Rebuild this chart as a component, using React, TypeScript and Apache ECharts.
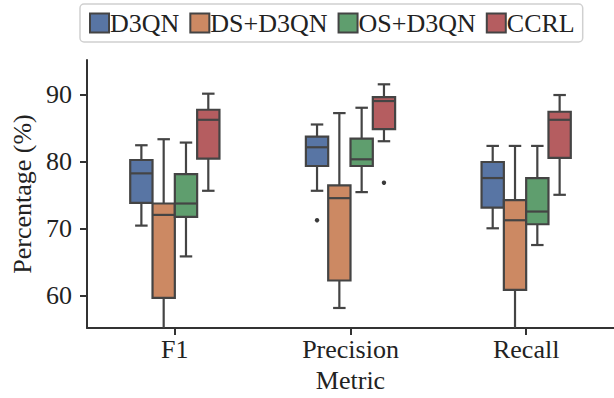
import React, { useEffect, useRef } from 'react';
import * as echarts from 'echarts';

const categories = ['F1', 'Precision', 'Recall'];
const seriesNames = ['D3QN', 'DS+D3QN', 'OS+D3QN', 'CCRL'];
// each row: [min, Q1, median, Q3, max] per category
const d3qnBoxes = [
  [70.4, 73.8, 78.2, 80.2, 82.4],
  [75.6, 79.3, 82.1, 83.7, 85.5],
  [70.0, 73.1, 77.5, 79.9, 82.3],
];
const dsD3qnBoxes = [
  [52.0, 59.6, 72.0, 73.7, 83.3],
  [58.1, 62.2, 74.5, 76.4, 87.2],
  [52.0, 60.8, 71.2, 74.2, 82.3],
];
const osD3qnBoxes = [
  [65.8, 71.7, 73.7, 78.1, 82.8],
  [75.4, 79.3, 80.3, 83.4, 88.0],
  [67.5, 70.6, 72.5, 77.5, 82.3],
];
const ccrlBoxes = [
  [75.6, 80.4, 86.2, 87.7, 90.1],
  [83.0, 84.8, 89.0, 89.6, 91.5],
  [75.0, 80.5, 86.2, 87.4, 89.9],
];
// outliers: [categoryIndex, hueIndex, value]
const outlierPoints = [
  [1, 0, 71.2],
  [1, 3, 76.8],
];
const yTicks = [60, 70, 80, 90];
const yMin = 55.11;
const yMax = 95.13;

const allBoxes = [d3qnBoxes, dsD3qnBoxes, osD3qnBoxes, ccrlBoxes];
const colors = ['#5875a4', '#cc8963', '#5f9e6e', '#b55d60'];
const LINE = '#444444';
const TEXT = '#222222';
const FONT = '"Liberation Serif", "Times New Roman", serif';
const BOX_FRAC = 0.127;

function boxRender(hueIdx: number) {
  return (params: any, api: any) => {
    const cat = api.value(0);
    const band = api.size([1, 0])[0];
    const w = band * BOX_FRAC;
    const cx = api.coord([cat, 60])[0] + (hueIdx - 1.5) * w;
    const cs = params.coordSys;
    const top = cs.y;
    const bot = cs.y + cs.height;
    const clampY = (y: number) => Math.max(top, Math.min(bot, y));
    const raw = [1, 2, 3, 4, 5].map((i) => api.coord([cat, api.value(i)])[1]);
    const [yLo, yQ1, yMed, yQ3, yHi] = raw.map(clampY);
    const half = w / 2;
    const cap = w * 0.28;
    const ls = { stroke: LINE, lineWidth: 2.2, fill: null };
    const children: any[] = [
      { type: 'line', shape: { x1: cx, y1: yQ1, x2: cx, y2: yLo }, style: ls },
      { type: 'line', shape: { x1: cx, y1: yQ3, x2: cx, y2: yHi }, style: ls },
      {
        type: 'rect',
        shape: { x: cx - half, y: yQ3, width: w, height: yQ1 - yQ3 },
        style: { fill: colors[hueIdx], stroke: LINE, lineWidth: 2.2 },
      },
      { type: 'line', shape: { x1: cx - half, y1: yMed, x2: cx + half, y2: yMed }, style: ls },
    ];
    if (raw[0] < bot) {
      children.push({ type: 'line', shape: { x1: cx - cap, y1: yLo, x2: cx + cap, y2: yLo }, style: ls });
    }
    if (raw[4] > top) {
      children.push({ type: 'line', shape: { x1: cx - cap, y1: yHi, x2: cx + cap, y2: yHi }, style: ls });
    }
    return { type: 'group', children };
  };
}

function outlierRender(params: any, api: any) {
  const cat = api.value(0);
  const hue = api.value(1);
  const band = api.size([1, 0])[0];
  const w = band * BOX_FRAC;
  const p = api.coord([cat, api.value(2)]);
  const cx = p[0] + (hue - 1.5) * w;
  return {
    type: 'circle',
    shape: { cx, cy: p[1], r: 2.2 },
    style: { fill: '#3a3a3a', stroke: null },
  };
}

export default function App() {
  const ref = useRef<HTMLDivElement>(null);
  useEffect(() => {
    if (!ref.current) return;
    const chart = echarts.init(ref.current, null, { renderer: 'svg' });
    const series: any[] = seriesNames.map((name, h) => ({
      name,
      type: 'custom',
      clip: true,
      itemStyle: { color: colors[h] },
      encode: { x: 0, y: [1, 2, 3, 4, 5] },
      data: allBoxes[h].map((b, i) => [i, ...b]),
      renderItem: boxRender(h),
    }));
    series.push({
      name: 'outliers',
      type: 'custom',
      clip: true,
      encode: { x: 0, y: 2 },
      data: outlierPoints,
      renderItem: outlierRender,
    });
    chart.setOption({
      animation: false,
      textStyle: { fontFamily: FONT },
      legend: {
        data: seriesNames,
        left: 80,
        top: 4,
        orient: 'horizontal',
        icon: 'rect',
        itemWidth: 19,
        itemHeight: 19,
        itemGap: 10,
        padding: [6, 8, 6, 9],
        borderColor: '#d0d0d0',
        borderWidth: 1.5,
        borderRadius: 4,
        itemStyle: { borderColor: LINE, borderWidth: 2 },
        textStyle: { fontFamily: FONT, fontSize: 26, color: TEXT, padding: [0, 0, 0, -4] },
      },
      grid: { left: 87, top: 60, width: 537, height: 268 },
      xAxis: {
        type: 'category',
        data: categories,
        name: 'Metric',
        nameLocation: 'middle',
        nameGap: 39,
        nameTextStyle: { fontFamily: FONT, fontSize: 26, color: TEXT },
        axisLine: { show: true, lineStyle: { color: '#333', width: 2 } },
        axisTick: { show: true, alignWithLabel: true, length: 7, lineStyle: { color: '#333', width: 2 } },
        axisLabel: { fontFamily: FONT, fontSize: 26, color: TEXT, margin: 8 },
        splitLine: { show: false },
      },
      yAxis: {
        type: 'value',
        min: yMin,
        max: yMax,
        name: 'Percentage (%)',
        nameLocation: 'middle',
        nameGap: 49,
        nameTextStyle: { fontFamily: FONT, fontSize: 26, color: TEXT },
        axisLine: { show: true, lineStyle: { color: '#333', width: 2 } },
        axisTick: { show: true, length: 7, customValues: yTicks, lineStyle: { color: '#333', width: 2 } },
        axisLabel: { fontFamily: FONT, fontSize: 26, color: TEXT, margin: 15, customValues: yTicks },
        splitLine: { show: false },
      },
      series,
    });
    return () => chart.dispose();
  }, []);
  return (
    <div
      ref={ref}
      style={{ position: 'fixed', left: 0, top: 0, width: 614, height: 398, background: '#fff' }}
    />
  );
}
